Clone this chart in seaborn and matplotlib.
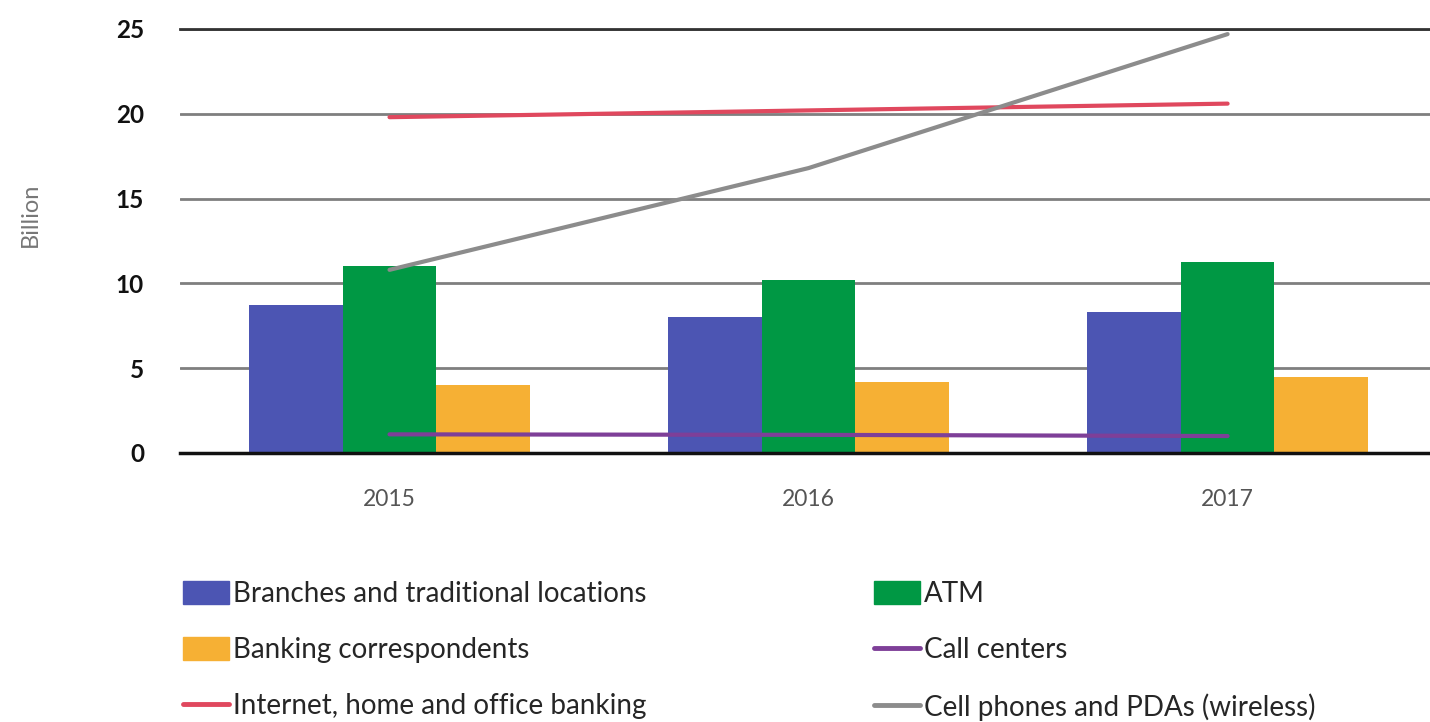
import numpy as np
import pandas as pd
import matplotlib
matplotlib.use("Agg")
import matplotlib.pyplot as plt
import seaborn as sns
from matplotlib.patches import Patch
from matplotlib.lines import Line2D

# --- data (billions of transactions) ---
years = ["2015", "2016", "2017"]
bar_channels = ["Branches and traditional locations", "ATM", "Banking correspondents"]
branches = [8.7, 8.0, 8.3]
atm = [11.0, 10.2, 11.25]
correspondents = [4.0, 4.2, 4.5]

call_centers = [1.1, 1.07, 1.0]
internet = [19.8, 20.2, 20.6]
cell_phones = [10.8, 16.8, 24.7]

bar_colors = ["#4C55B3", "#009844", "#F6B034"]
col_call = "#7E3F98"
col_internet = "#E0485E"
col_cell = "#8C8C8C"

# long table for seaborn
df = pd.DataFrame({
    "year": years * 3,
    "channel": [c for c in bar_channels for _ in years],
    "value": branches + atm + correspondents,
})

sns.set_style("white")
plt.rcParams["font.family"] = ["Lato", "DejaVu Sans"]

fig = plt.figure(figsize=(14.3, 7.22), dpi=100)
ax = fig.add_axes([180 / 1430, (722 - 453) / 722, 1 - 180 / 1430, (453 - 29) / 722])

sns.barplot(data=df, x="year", y="value", hue="channel", hue_order=bar_channels,
            palette=bar_colors, width=0.67, saturation=1, linewidth=0,
            legend=False, ax=ax)

# lines sit on the category positions of the bar axis
xpos = np.arange(len(years))
lines = pd.DataFrame({"x": np.tile(xpos, 3),
                      "series": ["call"] * 3 + ["internet"] * 3 + ["cell"] * 3,
                      "value": call_centers + internet + cell_phones})
sns.lineplot(data=lines, x="x", y="value", hue="series",
             palette={"call": col_call, "internet": col_internet, "cell": col_cell},
             linewidth=3, legend=False, ax=ax)

ax.set_xlim(-0.5, 2.483)
ax.set_ylim(0, 25)
ax.set_yticks([0, 5, 10, 15, 20, 25])
ax.set_xticks(xpos)
ax.set_xticklabels(years)
ax.yaxis.grid(True, color="#7F7F7F", linewidth=2)
ax.set_axisbelow(True)
for s in ["left", "right"]:
    ax.spines[s].set_visible(False)
ax.spines["bottom"].set_color("#111111")
ax.spines["bottom"].set_linewidth(2.5)
ax.spines["top"].set_color("#333333")
ax.spines["top"].set_linewidth(2)

ax.tick_params(axis="y", length=0, pad=26, labelsize=17.5, labelcolor="#111111")
ax.tick_params(axis="x", length=0, pad=26, labelsize=16.5, labelcolor="#555555")
for t in ax.get_yticklabels():
    t.set_fontweight("bold")
ax.set_xlabel("")
ax.set_ylabel("")
fig.text(30 / 1430, (722 - 215) / 722, "Billion", rotation=90, color="#777777",
         fontsize=17, ha="center", va="center")

# legend: two columns, filled column-wise
handles = [
    Patch(color=bar_colors[0]),
    Patch(color=bar_colors[2]),
    Line2D([], [], color=col_internet, linewidth=3.5),
    Patch(color=bar_colors[1]),
    Line2D([], [], color=col_call, linewidth=3.5),
    Line2D([], [], color=col_cell, linewidth=3.5),
]
labels = [
    "Branches and traditional locations",
    "Banking correspondents",
    "Internet, home and office banking",
    "ATM",
    "Call centers",
    "Cell phones and PDAs (wireless)",
]
fig.legend(handles, labels, ncol=2, loc="upper left",
           bbox_to_anchor=(172 / 1430, (722 - 570) / 722), frameon=False,
           fontsize=20, handlelength=1.65, handleheight=0.9, handletextpad=0.15,
           columnspacing=8.18, labelspacing=1.08, borderaxespad=0)

fig.savefig("out.png", dpi=100)
